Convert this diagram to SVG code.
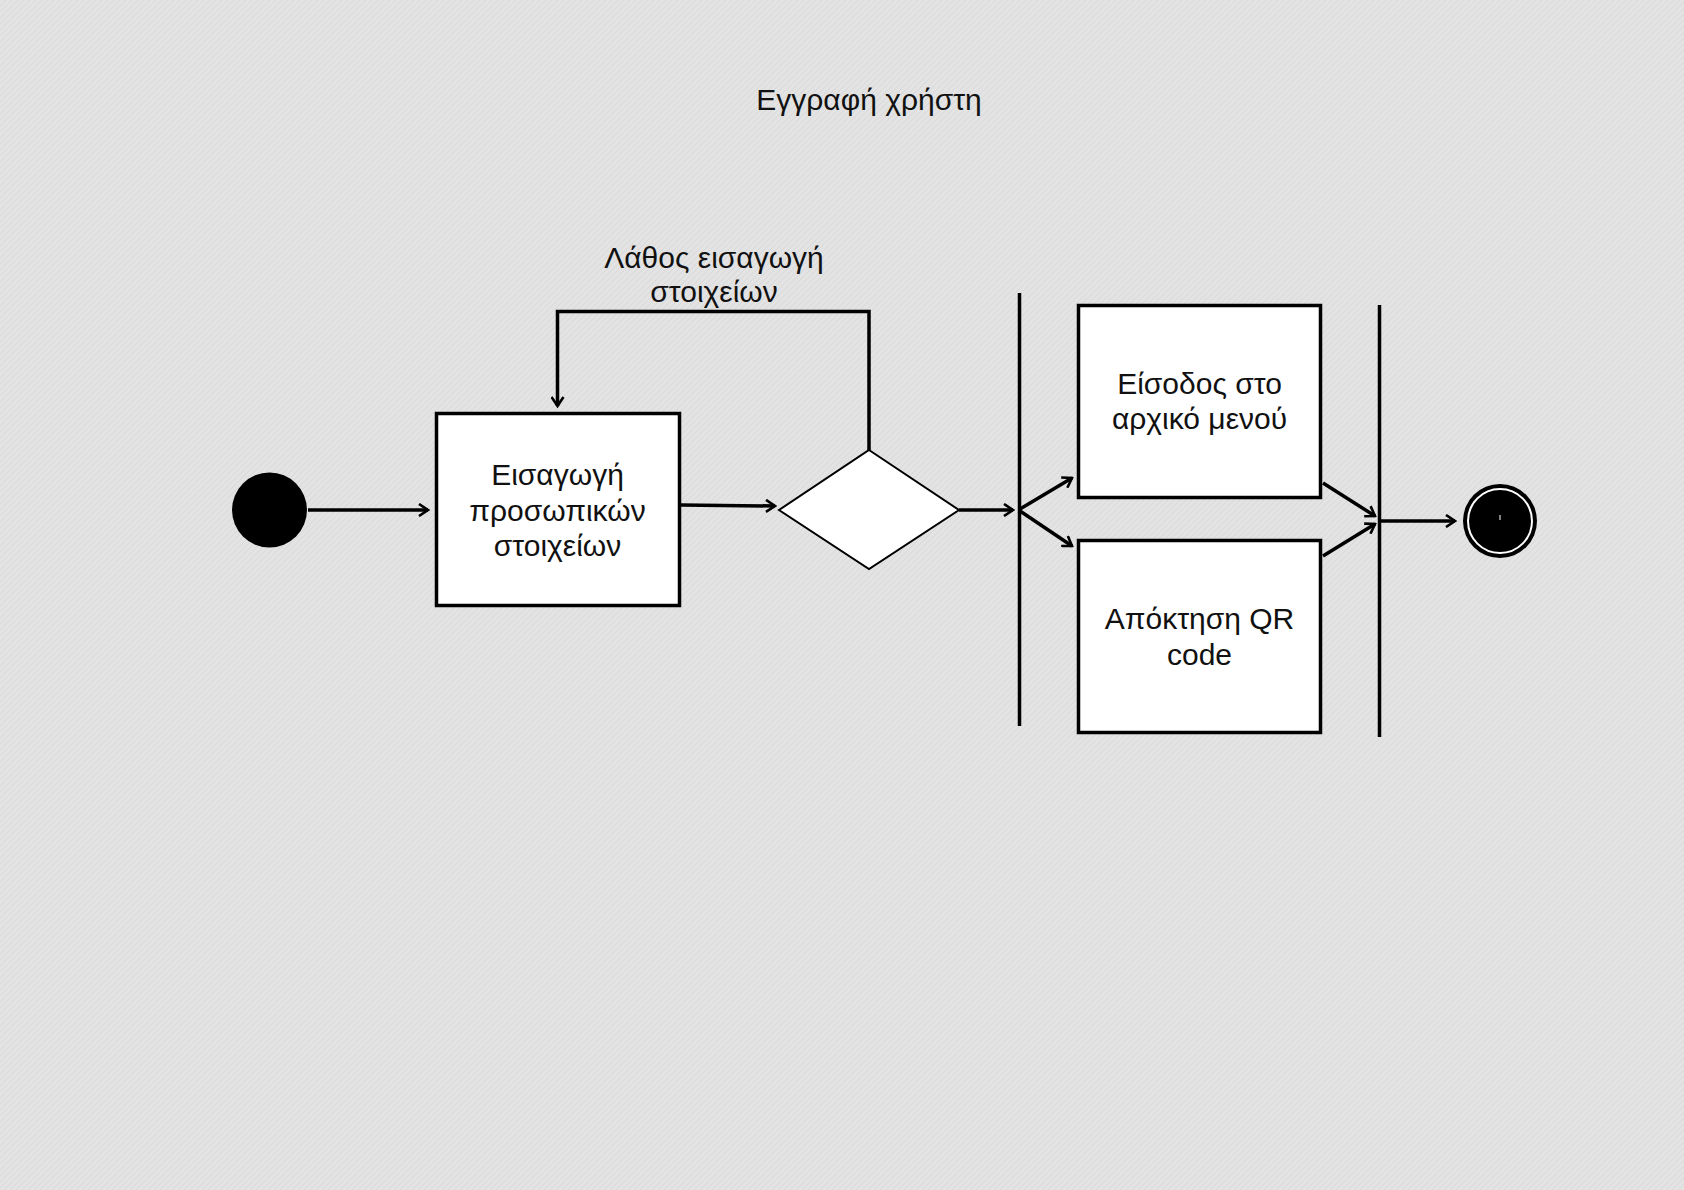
<svg xmlns="http://www.w3.org/2000/svg" width="1684" height="1190" viewBox="0 0 1684 1190">
<defs>
<style>
.t{font-family:"Liberation Sans",Arial,sans-serif;font-size:30px;fill:#111;text-anchor:middle}
.box{fill:#fff;stroke:#000;stroke-width:3.5}
.ln{fill:none;stroke:#000;stroke-width:3.5}
.bar{fill:none;stroke:#000;stroke-width:3.5}
</style>
<marker id="ah" viewBox="0 0 14 14" refX="12" refY="7" markerWidth="14" markerHeight="14" markerUnits="userSpaceOnUse" orient="auto">
<path d="M3,1 L12,7 L3,13" fill="none" stroke="#000" stroke-width="2.6"/>
</marker>
<pattern id="tex" width="6" height="6" patternUnits="userSpaceOnUse">
<rect width="6" height="6" fill="#e3e3e3"/>
<path d="M0,6 L6,0" stroke="#d8d8d8" stroke-width="1"/>
</pattern>
</defs>
<rect width="1684" height="1190" fill="url(#tex)"/>
<text class="t" x="869" y="110">Εγγραφή χρήστη</text>

<g id="connectors">
<line class="ln" x1="308" y1="510" x2="428" y2="510" marker-end="url(#ah)"/>
<line class="ln" x1="681" y1="505" x2="775" y2="506" marker-end="url(#ah)"/>
<polyline class="ln" points="869,450 869,311.5 557.5,311.5 557.5,406" marker-end="url(#ah)"/>
<line class="ln" x1="959" y1="510" x2="1013" y2="510" marker-end="url(#ah)"/>
<line class="ln" x1="1020" y1="509" x2="1072" y2="478" marker-end="url(#ah)"/>
<line class="ln" x1="1020" y1="511" x2="1072" y2="546" marker-end="url(#ah)"/>
<line class="ln" x1="1323" y1="483" x2="1375" y2="516" marker-end="url(#ah)"/>
<line class="ln" x1="1323" y1="556" x2="1375" y2="524" marker-end="url(#ah)"/>
<line class="ln" x1="1380" y1="521" x2="1455" y2="521" marker-end="url(#ah)"/>
<text class="t" x="714" y="268">Λάθος εισαγωγή</text>
<text class="t" x="714" y="302">στοιχείων</text>
</g>

<g id="start">
<circle cx="269.5" cy="510" r="37.5" fill="#000"/>
</g>

<g id="enter-data">
<rect class="box" x="436.5" y="413.5" width="243" height="192"/>
<text class="t" x="557.5" y="485">Εισαγωγή</text>
<text class="t" x="557.5" y="521">προσωπικών</text>
<text class="t" x="557.5" y="556">στοιχείων</text>
</g>

<g id="decision">
<polygon points="869,450 959,510 869,569 779,510" fill="#fff" stroke="#000" stroke-width="2"/>
</g>

<g id="fork">
<line class="bar" x1="1019.5" y1="293" x2="1019.5" y2="726"/>
</g>

<g id="main-menu">
<rect class="box" x="1078.5" y="305.5" width="242" height="192"/>
<text class="t" x="1199.5" y="394">Είσοδος στο</text>
<text class="t" x="1199.5" y="429">αρχικό μενού</text>
</g>

<g id="qr-code">
<rect class="box" x="1078.5" y="540.5" width="242" height="192"/>
<text class="t" x="1199.5" y="629">Απόκτηση QR</text>
<text class="t" x="1199.5" y="665">code</text>
</g>

<g id="join">
<line class="bar" x1="1379.5" y1="305" x2="1379.5" y2="737"/>
</g>

<g id="end">
<circle cx="1500" cy="521" r="37" fill="#000"/>
<circle cx="1500" cy="521" r="32" fill="none" stroke="#fff" stroke-width="2"/>
<line x1="1500" y1="515" x2="1500" y2="520" stroke="#fff" stroke-width="1"/>
</g>
</svg>
